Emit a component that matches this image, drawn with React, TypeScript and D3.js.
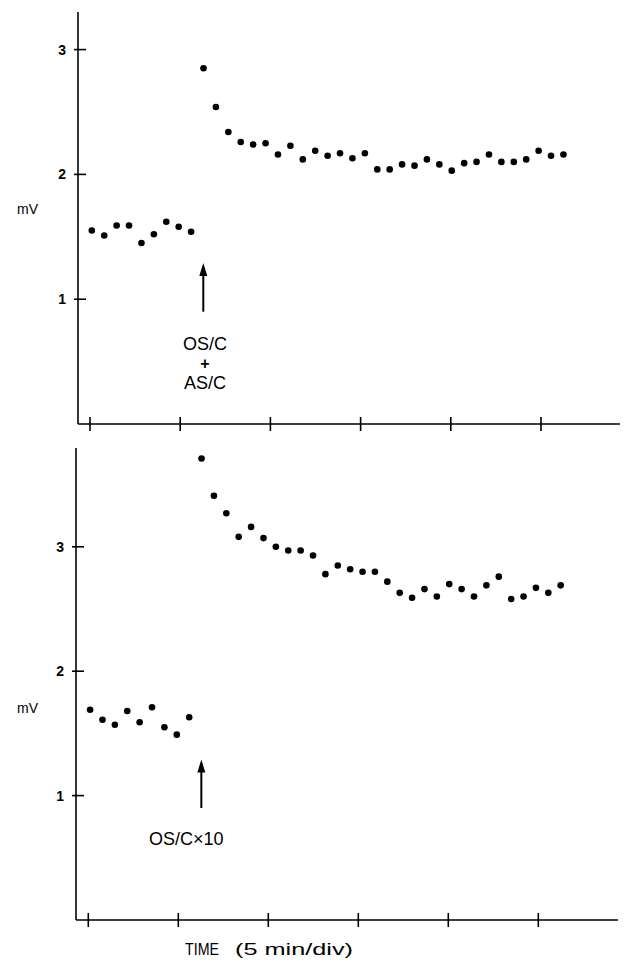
import React from "react";
import * as d3 from "d3";

// time axis: one division = 5 min
const timeTicks = [0, 5, 10, 15, 20, 25];
const mvTicks = [1, 2, 3];

// recordings are sampled at a fixed interval (min)
const sampleStart = 0.1;
const sampleStep = 0.688;
const injectAt = 6.28;

// upper trace: OS/C + AS/C
const upperBefore = [1.55, 1.51, 1.59, 1.59, 1.45, 1.52, 1.62, 1.58, 1.54];
const upperAfter = [
  2.85, 2.54, 2.34, 2.26, 2.24, 2.25, 2.16, 2.23, 2.12, 2.19,
  2.15, 2.17, 2.13, 2.17, 2.04, 2.04, 2.08, 2.07, 2.12, 2.08,
  2.03, 2.09, 2.10, 2.16, 2.10, 2.10, 2.12, 2.19, 2.15, 2.16,
];

// lower trace: OS/C x10
const lowerBefore = [1.69, 1.61, 1.57, 1.68, 1.59, 1.71, 1.55, 1.49, 1.63];
const lowerAfter = [
  3.71, 3.41, 3.27, 3.08, 3.16, 3.07, 3.00, 2.97, 2.97, 2.93,
  2.78, 2.85, 2.82, 2.80, 2.80, 2.72, 2.63, 2.59, 2.66, 2.60,
  2.70, 2.66, 2.60, 2.69, 2.76, 2.58, 2.60, 2.67, 2.63, 2.69,
];

const FONT = "'Liberation Sans', Arial, sans-serif";

type PanelProps = {
  before: number[];
  after: number[];
  xRange: [number, number];
  yRange: [number, number];
  axisX: number;
  axisTop: number;
  axisRight: number;
  mvY: number;
  labelX: number;
  labelLines: { text: string; y: number; size: number; weight?: number }[];
  anchor: "middle" | "start";
};

const Panel = ({ before, after, xRange, yRange, axisX, axisTop, axisRight, mvY, labelX, labelLines, anchor }: PanelProps) => {
  const x = d3.scaleLinear().domain([0, 25]).range(xRange);
  const y = d3.scaleLinear().domain([0, 3]).range(yRange);
  const points = [...before, ...after].map((v, i) => ({ t: sampleStart + i * sampleStep, v }));
  const baseY = y(0);
  const ax = x(injectAt);
  const tipY = y(1.29);
  const tailY = y(0.9);

  return (
    <g>
      {/* axes */}
      <line x1={axisX} x2={axisX} y1={axisTop} y2={baseY} stroke="#000" strokeWidth={1.6} />
      <line x1={axisX} x2={axisRight} y1={baseY} y2={baseY} stroke="#000" strokeWidth={1.6} />
      {timeTicks.map((t) => (
        <line key={t} x1={x(t)} x2={x(t)} y1={baseY - 7} y2={baseY + 7} stroke="#000" strokeWidth={1.6} />
      ))}
      {mvTicks.map((m) => (
        <g key={m}>
          <line x1={axisX - 4} x2={axisX + 8} y1={y(m)} y2={y(m)} stroke="#000" strokeWidth={1.6} />
          <text x={axisX - 12} y={y(m)} dy="0.36em" textAnchor="end" fontSize={14} fontWeight={700} fontFamily={FONT}>
            {m}
          </text>
        </g>
      ))}
      <text x={17} y={mvY} fontSize={14} fontFamily={FONT}>mV</text>

      {/* samples */}
      {points.map((p, i) => (
        <circle key={i} cx={x(p.t)} cy={y(p.v)} r={3.3} fill="#000" />
      ))}

      {/* injection arrow */}
      <line x1={ax} x2={ax} y1={tailY} y2={tipY + 8} stroke="#000" strokeWidth={2} />
      <path d={`M${ax},${tipY} L${ax - 4},${tipY + 13} L${ax + 4},${tipY + 13} Z`} fill="#000" />
      {labelLines.map((l, i) => (
        <text key={i} x={labelX} y={l.y} textAnchor={anchor} fontSize={l.size} fontWeight={l.weight ?? 400} fontFamily={FONT}>
          {l.text}
        </text>
      ))}
    </g>
  );
};

export default function App() {
  return (
    <svg width={626} height={960} style={{ position: "absolute", left: 0, top: 0, background: "#fff" }}>
      <Panel
        before={upperBefore}
        after={upperAfter}
        xRange={[90, 541]}
        yRange={[424, 49.6]}
        axisX={78}
        axisTop={12}
        axisRight={620}
        mvY={214}
        labelX={205}
        anchor="middle"
        labelLines={[
          { text: "OS/C", y: 350, size: 18 },
          { text: "+", y: 369, size: 16, weight: 700 },
          { text: "AS/C", y: 389, size: 18 },
        ]}
      />
      <Panel
        before={lowerBefore}
        after={lowerAfter}
        xRange={[88.3, 538.3]}
        yRange={[920, 546.8]}
        axisX={76}
        axisTop={448}
        axisRight={618}
        mvY={713}
        labelX={149}
        anchor="start"
        labelLines={[{ text: "OS/C×10", y: 845, size: 18 }]}
      />
      <text x={185} y={955} fontSize={17} fontFamily={FONT} textLength={34} lengthAdjust="spacingAndGlyphs">
        TIME
      </text>
      <text x={235} y={955} fontSize={17} fontFamily={FONT} textLength={118} lengthAdjust="spacingAndGlyphs">
        (5 min/div)
      </text>
    </svg>
  );
}
